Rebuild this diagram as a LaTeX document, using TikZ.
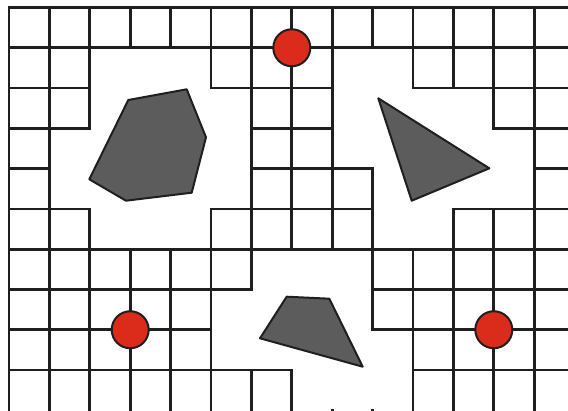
\documentclass[tikz,border=0pt]{standalone}
\begin{document}
\begin{tikzpicture}[x=1pt,y=-1pt,
  gridline/.style={line width=2.8pt,draw=black!88,line cap=rect},
  obstacle/.style={fill=black!64,draw=black!88,line width=2pt,line join=round},
  goal/.style={circle,minimum size=37pt,inner sep=0pt,fill={rgb,255:red,219;green,43;blue,27},draw=black!88,line width=2pt}]
\fill[white] (0,0) rectangle (568,410);
\useasboundingbox (0,0) rectangle (568,410);
\begin{scope}[shift={(9pt,-7.5pt)},x=40.4pt,y=-40.28pt]
  \def\E{14.3}
  \def\B{10.3}
  % horizontal segments j/from/to
  \foreach \j/\a/\b in {0/0/\E,1/0/\E,2/0/2,2/5/8,2/10/\E,3/0/2,3/6/8,3/12/\E,
      4/0/1,4/6/9,4/13/\E,5/0/2,5/5/9,5/11/\E,6/0/\E,7/0/6,7/9/\E,8/0/5,8/9/\E,
      9/0/7,9/10/\E}
    \draw[gridline] (\a,\j) -- (\b,\j);
  % vertical segments i/from/to
  \foreach \i/\a/\b in {0/0/\B,1/0/\B,2/0/3,2/5/\B,3/0/1,3/6/\B,4/0/1,4/6/\B,
      5/0/2,5/5/\B,6/0/7,6/9/\B,7/0/6,7/9/\B,8/0/6,8/10/\B,9/0/1,9/4/8,9/10/\B,
      10/0/2,10/6/\B,11/0/2,11/5/\B,12/0/3,12/5/\B,13/0/\B}
    \draw[gridline] (\i,\a) -- (\i,\b);
  \node[goal] (g1) at (7,1) {};
  \node[goal] (g2) at (3,8) {};
  \node[goal] (g3) at (12,8) {};
\end{scope}
\draw[obstacle] (128.3,100) -- (186.7,89.3) -- (206,137.3) -- (191.7,192.7) -- (126,200.7) -- (89.3,179.3) -- cycle;
\draw[obstacle] (378.3,98.3) -- (489.3,168.3) -- (411.7,200.7) -- cycle;
\draw[obstacle] (286.7,296.7) -- (329.3,298.7) -- (362.7,366.7) -- (260,338.3) -- cycle;
\end{tikzpicture}
\end{document}
